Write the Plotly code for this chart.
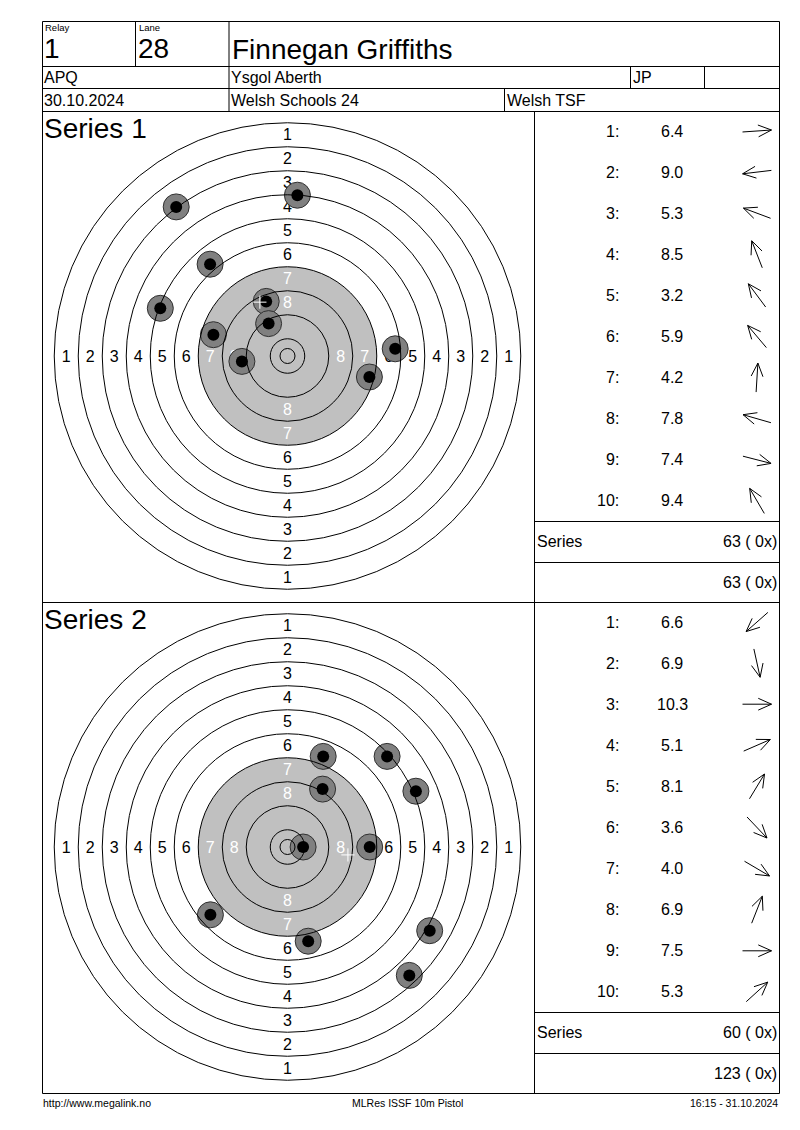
import math
import plotly.graph_objects as go

# ---------------- data ----------------
relay = "1"
lane = "28"
shooter = "Finnegan Griffiths"
shooter_class = "APQ"
club = "Ysgol Aberth"
nation = "JP"
match_date = "30.10.2024"
competition = "Welsh Schools 24"
organiser = "Welsh TSF"
footer_left = "http://www.megalink.no"
footer_mid = "MLRes ISSF 10m Pistol"
footer_right = "16:15 - 31.10.2024"

series_labels = ["Series 1", "Series 2"]
shot_numbers = [1, 2, 3, 4, 5, 6, 7, 8, 9, 10]

# shot impact positions in mm from target centre (x right, y up)
s1_x_mm = [35.9, -15.2, -42.4, -7.1, -37.1, -25.8, 3.3, -24.7, 27.3, -6.3]
s1_y_mm = [2.4, -1.8, 15.9, 18.2, 49.7, 30.6, 53.6, 7.1, -7.0, 10.8]
s1_scores = [6.4, 9.0, 5.3, 8.5, 3.2, 5.9, 4.2, 7.8, 7.4, 9.4]

s2_x_mm = [-25.7, 6.9, 5.2, 42.8, 11.7, 40.6, 47.4, 11.9, 27.4, 33.2]
s2_y_mm = [-22.6, -31.4, 0.0, 18.6, 19.3, -42.8, -27.9, 30.2, 0.0, 30.2]
s2_scores = [6.6, 6.9, 10.3, 5.1, 8.1, 3.6, 4.0, 6.9, 7.5, 5.3]

series_row_label = "Series"
series_totals = ["63 ( 0x)", "60 ( 0x)"]
running_totals = ["63 ( 0x)", "123 ( 0x)"]

# ISSF 10m air pistol target
ring_values = [1, 2, 3, 4, 5, 6, 7, 8, 9, 10]
ring_diameters_mm = [155.5, 139.5, 123.5, 107.5, 91.5, 75.5, 59.5, 43.5, 27.5, 11.5]
inner_ten_diameter_mm = 5.0
aiming_black_diameter_mm = 59.5
labelled_rings = [1, 2, 3, 4, 5, 6, 7, 8]

# ---------------- layout constants ----------------
W, H = 800, 1130
PX_PER_MM = 3.0
HALF_MM = 80.0
FONT = "Liberation Sans, Arial, sans-serif"
LEFT, RIGHT = 42.5, 779.5
TOP = 21.5
ROW1, ROW2, ROW3 = 66.5, 88.5, 111.5
PANEL_H = 491.0
panel_tops = [ROW3, ROW3 + PANEL_H]
SPLIT_X = 534.5
TARGET_CX = 287.5
TARGET_CY_OFF = 244.5
ARROW_CX = 757.0
LABEL_NUDGE_MM = -0.5

series = [
    (s1_x_mm, s1_y_mm, s1_scores),
    (s2_x_mm, s2_y_mm, s2_scores),
]

fig = go.Figure()
shapes = []
annotations = []


def line(x0, y0, x1, y1, color="black", width=1, xref="x3", yref="y3"):
    shapes.append(dict(type="line", x0=x0, y0=y0, x1=x1, y1=y1, xref=xref, yref=yref,
                       line=dict(color=color, width=width), layer="above"))


def txt(x, y, s, size, anchor="left", color="black"):
    annotations.append(dict(x=x, y=y, xref="x3", yref="y3", text=s, showarrow=False,
                            xanchor=anchor, yanchor="middle", borderpad=0,
                            font=dict(family=FONT, size=size, color=color)))


layout_axes = {}

for si, (xs, ys, scores) in enumerate(series):
    ax_id = "" if si == 0 else "2"
    xref, yref = "x" + ax_id, "y" + ax_id
    top = panel_tops[si]
    cy = top + TARGET_CY_OFF
    half_px = HALF_MM * PX_PER_MM
    layout_axes["xaxis" + ax_id] = dict(
        domain=[(TARGET_CX - half_px) / W, (TARGET_CX + half_px) / W],
        range=[-HALF_MM, HALF_MM], visible=False, fixedrange=True, anchor=yref)
    layout_axes["yaxis" + ax_id] = dict(
        domain=[1 - (cy + half_px) / H, 1 - (cy - half_px) / H],
        range=[-HALF_MM, HALF_MM], visible=False, fixedrange=True, anchor=xref)

    # aiming black (drawn light grey)
    rb = aiming_black_diameter_mm / 2
    shapes.append(dict(type="circle", xref=xref, yref=yref, x0=-rb, y0=-rb, x1=rb, y1=rb,
                       fillcolor="#c0c0c0", line=dict(width=0), layer="below"))
    # ring lines (over the shots)
    for d in ring_diameters_mm + [inner_ten_diameter_mm]:
        r = d / 2
        shapes.append(dict(type="circle", xref=xref, yref=yref, x0=-r, y0=-r, x1=r, y1=r,
                           line=dict(color="black", width=1), layer="above"))

    # ring numbers
    lx, ly, lt, lc = [], [], [], []
    for v in labelled_rings:
        i = ring_values.index(v)
        r = (ring_diameters_mm[i] + ring_diameters_mm[i + 1]) / 4
        inside = ring_diameters_mm[i] <= aiming_black_diameter_mm
        for (px, py) in [(0, r), (0, -r), (-r, 0), (r, 0)]:
            lx.append(px)
            ly.append(py + LABEL_NUDGE_MM)
            lt.append(str(v))
            lc.append("white" if inside else "black")
    fig.add_trace(go.Scatter(x=lx, y=ly, text=lt, mode="text", xaxis=xref, yaxis=yref,
                             textfont=dict(family=FONT, size=16, color=lc),
                             hoverinfo="skip", showlegend=False))

    # shots
    fig.add_trace(go.Scatter(x=xs, y=ys, mode="markers", xaxis=xref, yaxis=yref,
                             marker=dict(size=26, color="#808080",
                                         line=dict(color="#303030", width=1)),
                             hoverinfo="skip", showlegend=False))
    fig.add_trace(go.Scatter(x=xs, y=ys, mode="markers", xaxis=xref, yaxis=yref,
                             marker=dict(size=12, color="black", line=dict(width=0)),
                             hoverinfo="skip", showlegend=False))

    # mean point of impact (white cross)
    mx = sum(xs) / len(xs)
    my = sum(ys) / len(ys)
    arm = 2.2
    line(mx - arm, my, mx + arm, my, color="white", xref=xref, yref=yref)
    line(mx, my - arm, mx, my + arm, color="white", xref=xref, yref=yref)

    # series title
    txt(LEFT + 0.5, top + 16.5, series_labels[si], 28)

    # shot table + direction arrows
    axs, ays = [], []
    for k, (n, sc) in enumerate(zip(shot_numbers, scores)):
        ry = top + 19.5 + 41.1 * k
        txt(619.5, ry, f"{n}:", 16, anchor="right")
        txt(672.0, ry, f"{sc:.1f}", 16, anchor="center")
        dx, dy = xs[k], -ys[k]
        dist = math.hypot(dx, dy)
        ux, uy = dx / dist, dy / dist
        hx, hy = ARROW_CX + 14.5 * ux, ry + 14.5 * uy
        tx, ty = ARROW_CX - 14.5 * ux, ry - 14.5 * uy
        axs += [tx, hx, None]
        ays += [ty, hy, None]
        for sgn in (1, -1):
            a = math.radians(24) * sgn
            wx = ux * math.cos(a) - uy * math.sin(a)
            wy = ux * math.sin(a) + uy * math.cos(a)
            axs += [hx, hx - 14.5 * wx, None]
            ays += [hy, hy - 14.5 * wy, None]
    fig.add_trace(go.Scatter(x=axs, y=ays, mode="lines", xaxis="x3", yaxis="y3",
                             line=dict(color="black", width=1),
                             hoverinfo="skip", showlegend=False))

    # series / total rows
    line(SPLIT_X, top + 410, RIGHT, top + 410)
    line(SPLIT_X, top + 451, RIGHT, top + 451)
    txt(535.5, top + 429.5, series_row_label, 16)
    txt(778.0, top + 429.5, series_totals[si], 16, anchor="right")
    txt(778.0, top + 470.5, running_totals[si], 16, anchor="right")
    line(LEFT, top + PANEL_H, RIGHT, top + PANEL_H)

# overlay page axis (pixel coordinates)
layout_axes["xaxis3"] = dict(domain=[0, 1], range=[0, W], visible=False, fixedrange=True, anchor="y3")
layout_axes["yaxis3"] = dict(domain=[0, 1], range=[H, 0], visible=False, fixedrange=True, anchor="x3")

# header frame
bottom = panel_tops[-1] + PANEL_H
line(LEFT, TOP, RIGHT, TOP)
line(LEFT, TOP, LEFT, bottom)
line(RIGHT, TOP, RIGHT, bottom)
line(LEFT, ROW1, RIGHT, ROW1)
line(LEFT, ROW2, RIGHT, ROW2)
line(LEFT, ROW3, RIGHT, ROW3)
line(135.5, TOP, 135.5, ROW1)
line(229.0, TOP, 229.0, ROW3)
line(630.5, ROW1, 630.5, ROW2)
line(704.5, ROW1, 704.5, ROW2)
line(504.5, ROW2, 504.5, ROW3)
line(SPLIT_X, ROW3, SPLIT_X, bottom)

txt(43.5, 27.5, "Relay", 9.5)
txt(137.5, 27.5, "Lane", 9.5)
txt(42.5, 48.5, relay, 28)
txt(137, 48.5, lane, 28)
txt(230.5, 49, shooter, 28)
txt(43, 77.5, shooter_class, 16)
txt(230, 77.5, club, 16)
txt(631.5, 77.5, nation, 16)
txt(43, 100, match_date, 16)
txt(230, 100, competition, 16)
txt(505.5, 100, organiser, 16)

txt(42, 1102.5, footer_left, 10.5)
txt(407, 1102.5, footer_mid, 10.5, anchor="center")
txt(779, 1102.5, footer_right, 10.5, anchor="right")

fig.update_layout(
    width=W, height=H, margin=dict(l=0, r=0, t=0, b=0, pad=0),
    paper_bgcolor="white", plot_bgcolor="rgba(0,0,0,0)",
    showlegend=False, shapes=shapes, annotations=annotations,
    **layout_axes,
)

fig.write_html("out.html", config={"displayModeBar": False, "staticPlot": True},
               post_script="document.body.style.margin='0';document.body.style.overflow='hidden';")
